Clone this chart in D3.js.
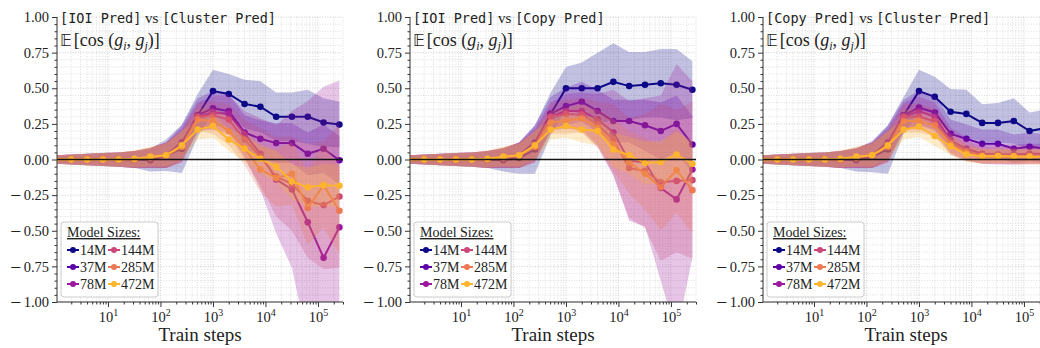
<!DOCTYPE html>
<html>
<head>
<meta charset="utf-8">
<script src="https://cdn.jsdelivr.net/npm/d3@7"></script>
<style>
  body { margin: 0; background: #fff; }
  text { font-family: "Liberation Serif", serif; fill: #222; }
</style>
</head>
<body>
<svg id="chart" width="1040" height="348"></svg>
<script>
// training checkpoints (x) and model sizes (series)
const steps = [1, 2, 4, 8, 16, 32, 64, 128, 256, 512, 1000, 2000, 4000, 8000, 16000, 32000, 64000, 128000, 256000];
const sizes = ["14M", "37M", "78M", "144M", "285M", "472M"];
const panelTitles = [["IOI Pred", "Cluster Pred"], ["IOI Pred", "Copy Pred"], ["Copy Pred", "Cluster Pred"]];
const yTicks = [-1, -0.75, -0.5, -0.25, 0, 0.25, 0.5, 0.75, 1];
const xTicks = [10, 100, 1000, 10000, 100000];

// [IOI Pred] vs [Cluster Pred]
const meanIoiCluster = [
  [0, 0, 0, 0, 0, 0, -0.005, 0.03, 0.075, 0.31, 0.48, 0.46, 0.39, 0.37, 0.30, 0.30, 0.30, 0.26, 0.245],
  [0, 0, 0, 0, 0, 0, 0.01, 0.03, 0.12, 0.31, 0.36, 0.34, 0.19, 0.145, 0.115, 0.115, 0.04, 0.075, -0.005],
  [0, 0, 0, 0, 0, 0, 0.01, 0.03, 0.10, 0.30, 0.33, 0.32, 0.18, 0.04, -0.14, -0.21, -0.44, -0.69, -0.475],
  [0, 0, 0, 0, 0, 0, 0.01, 0.03, 0.09, 0.30, 0.31, 0.28, 0.14, 0.02, -0.12, -0.17, -0.29, -0.32, -0.26],
  [0, 0, 0, 0, 0, 0, 0.015, 0.03, 0.09, 0.28, 0.27, 0.20, 0.08, -0.07, -0.13, -0.10, -0.34, -0.18, -0.36],
  [0, 0, 0, 0, 0, 0.005, 0.02, 0.03, 0.10, 0.21, 0.235, 0.14, 0.075, 0.005, -0.05, -0.155, -0.195, -0.18, -0.185]
];
const sdIoiCluster = [
  [0.03, 0.035, 0.04, 0.045, 0.05, 0.06, 0.08, 0.11, 0.17, 0.15, 0.15, 0.14, 0.17, 0.18, 0.17, 0.17, 0.19, 0.17, 0.16],
  [0.03, 0.035, 0.04, 0.045, 0.05, 0.06, 0.07, 0.09, 0.12, 0.12, 0.12, 0.12, 0.12, 0.13, 0.14, 0.14, 0.15, 0.17, 0.17],
  [0.03, 0.035, 0.04, 0.045, 0.05, 0.06, 0.07, 0.09, 0.12, 0.10, 0.12, 0.13, 0.16, 0.25, 0.38, 0.55, 0.85, 1.20, 1.03],
  [0.03, 0.035, 0.04, 0.045, 0.05, 0.06, 0.07, 0.09, 0.11, 0.09, 0.10, 0.11, 0.14, 0.20, 0.28, 0.33, 0.40, 0.45, 0.50],
  [0.03, 0.035, 0.04, 0.045, 0.05, 0.06, 0.07, 0.09, 0.11, 0.08, 0.09, 0.10, 0.12, 0.16, 0.20, 0.22, 0.26, 0.30, 0.30],
  [0.03, 0.035, 0.04, 0.045, 0.05, 0.06, 0.07, 0.08, 0.10, 0.07, 0.08, 0.08, 0.09, 0.10, 0.11, 0.12, 0.14, 0.15, 0.15]
];

// [IOI Pred] vs [Copy Pred]
const meanIoiCopy = [
  [0, 0, 0, 0, 0, 0, -0.005, 0.01, 0.07, 0.32, 0.50, 0.50, 0.50, 0.545, 0.515, 0.525, 0.535, 0.525, 0.49],
  [0, 0, 0, 0, 0, 0, 0.01, 0.03, 0.12, 0.32, 0.375, 0.405, 0.34, 0.27, 0.27, 0.24, 0.20, 0.25, 0.105],
  [0, 0, 0, 0, 0, 0, 0.01, 0.03, 0.10, 0.30, 0.34, 0.34, 0.28, 0.19, -0.01, -0.02, -0.20, -0.28, -0.07],
  [0, 0, 0, 0, 0, 0, 0.01, 0.03, 0.09, 0.30, 0.32, 0.315, 0.245, 0.14, -0.06, -0.08, -0.16, -0.15, -0.145],
  [0, 0, 0, 0, 0, 0, 0.015, 0.03, 0.09, 0.26, 0.27, 0.29, 0.22, 0.105, -0.02, -0.10, -0.195, -0.075, -0.215],
  [0, 0, 0, 0, 0, 0.005, 0.02, 0.03, 0.10, 0.21, 0.235, 0.21, 0.20, 0.07, 0.03, -0.025, -0.018, 0.035, -0.03]
];
const sdIoiCopy = [
  [0.03, 0.035, 0.04, 0.045, 0.05, 0.06, 0.08, 0.11, 0.17, 0.15, 0.15, 0.18, 0.25, 0.27, 0.24, 0.23, 0.24, 0.25, 0.20],
  [0.03, 0.035, 0.04, 0.045, 0.05, 0.06, 0.07, 0.09, 0.12, 0.12, 0.13, 0.14, 0.15, 0.15, 0.15, 0.18, 0.20, 0.20, 0.20],
  [0.03, 0.035, 0.04, 0.045, 0.05, 0.06, 0.07, 0.09, 0.12, 0.10, 0.12, 0.13, 0.18, 0.30, 0.42, 0.45, 0.65, 0.95, 0.62],
  [0.03, 0.035, 0.04, 0.045, 0.05, 0.06, 0.07, 0.09, 0.11, 0.09, 0.10, 0.12, 0.16, 0.25, 0.35, 0.40, 0.55, 0.50, 0.55],
  [0.03, 0.035, 0.04, 0.045, 0.05, 0.06, 0.07, 0.09, 0.11, 0.08, 0.09, 0.10, 0.13, 0.18, 0.22, 0.25, 0.30, 0.30, 0.30],
  [0.03, 0.035, 0.04, 0.045, 0.05, 0.06, 0.07, 0.08, 0.10, 0.07, 0.08, 0.09, 0.10, 0.12, 0.13, 0.15, 0.15, 0.16, 0.16]
];

// [Copy Pred] vs [Cluster Pred]
const meanCopyCluster = [
  [0, 0, 0, 0, 0, 0, -0.005, 0.02, 0.07, 0.31, 0.48, 0.44, 0.335, 0.32, 0.257, 0.257, 0.27, 0.20, 0.22],
  [0, 0, 0, 0, 0, 0, 0.01, 0.03, 0.12, 0.31, 0.365, 0.33, 0.18, 0.145, 0.11, 0.11, 0.075, 0.09, 0.075],
  [0, 0, 0, 0, 0, 0, 0.01, 0.03, 0.10, 0.30, 0.34, 0.30, 0.135, 0.075, 0.04, 0.035, 0.035, 0.04, 0.04],
  [0, 0, 0, 0, 0, 0, 0.01, 0.03, 0.09, 0.30, 0.30, 0.27, 0.115, 0.06, 0.03, 0.03, 0.025, 0.025, 0.025],
  [0, 0, 0, 0, 0, 0, 0.015, 0.03, 0.09, 0.27, 0.27, 0.24, 0.105, 0.047, 0.02, 0.02, 0.02, 0.02, 0.02],
  [0, 0, 0, 0, 0, 0.005, 0.02, 0.03, 0.10, 0.21, 0.23, 0.165, 0.093, 0.035, 0.023, 0.025, 0.022, 0.02, 0.02]
];
const sdCopyCluster = [
  [0.03, 0.035, 0.04, 0.045, 0.05, 0.06, 0.08, 0.11, 0.17, 0.13, 0.15, 0.14, 0.16, 0.17, 0.13, 0.14, 0.16, 0.13, 0.13],
  [0.03, 0.035, 0.04, 0.045, 0.05, 0.06, 0.07, 0.09, 0.12, 0.11, 0.12, 0.12, 0.10, 0.10, 0.10, 0.10, 0.10, 0.10, 0.10],
  [0.03, 0.035, 0.04, 0.045, 0.05, 0.06, 0.07, 0.09, 0.12, 0.10, 0.10, 0.10, 0.09, 0.08, 0.07, 0.07, 0.07, 0.07, 0.07],
  [0.03, 0.035, 0.04, 0.045, 0.05, 0.06, 0.07, 0.09, 0.11, 0.09, 0.09, 0.09, 0.08, 0.07, 0.06, 0.06, 0.06, 0.06, 0.06],
  [0.03, 0.035, 0.04, 0.045, 0.05, 0.06, 0.07, 0.09, 0.11, 0.08, 0.08, 0.08, 0.07, 0.06, 0.05, 0.05, 0.05, 0.05, 0.05],
  [0.03, 0.035, 0.04, 0.045, 0.05, 0.06, 0.07, 0.08, 0.10, 0.07, 0.07, 0.07, 0.06, 0.05, 0.05, 0.05, 0.05, 0.05, 0.05]
];

const panelMeans = [meanIoiCluster, meanIoiCopy, meanCopyCluster];
const panelSds = [sdIoiCluster, sdIoiCopy, sdCopyCluster];

var svg = d3.select("#chart");
var panelLeft = [57, 410, 763];
var marginTop = 17, width = 286, height = 285;

var x = d3.scaleLog().domain([1.07, 3.0e5]).range([0, width]);
var y = d3.scaleLinear().domain([-1, 1]).range([height, 0]);
var color = i => d3.interpolatePlasma(i / 6);

svg.append("defs").append("clipPath").attr("id", "clip")
  .append("rect").attr("width", width).attr("height", height);

// minor positions for grid / ticks
var xMinor = [];
for (let k = 0; k < 6; k++) for (let m = 2; m < 10; m++) {
  let v = m * Math.pow(10, k);
  if (v >= x.domain()[0] && v <= x.domain()[1]) xMinor.push(v);
}
var yMinor = d3.range(-20, 21).map(i => i * 0.05).filter(v => Math.abs(v * 4 - Math.round(v * 4)) > 1e-6);

panelMeans.forEach(function(means, p) {
  var sds = panelSds[p];
  var g = svg.append("g").attr("transform", "translate(" + panelLeft[p] + "," + marginTop + ")");

  // grid
  var grid = g.append("g").attr("class", "grid");
  grid.selectAll(".gx").data(xMinor.concat(xTicks)).enter().append("line")
    .attr("x1", d => x(d)).attr("x2", d => x(d)).attr("y1", 0).attr("y2", height)
    .attr("stroke", d => xTicks.includes(d) ? "#b8b8b8" : "#d0d0d0")
    .attr("stroke-width", 0.7).attr("stroke-dasharray", "1,1.6");
  grid.selectAll(".gy").data(yMinor.concat(yTicks)).enter().append("line")
    .attr("x1", 0).attr("x2", width).attr("y1", d => y(d)).attr("y2", d => y(d))
    .attr("stroke", d => yTicks.includes(d) ? "#b8b8b8" : "#d0d0d0")
    .attr("stroke-width", 0.7).attr("stroke-dasharray", "1,1.6");

  var plot = g.append("g").attr("clip-path", "url(#clip)");

  means.forEach(function(vals, i) {
    var pts = steps.map((s, j) => ({ s: s, m: vals[j], sd: sds[i][j] }));
    var area = d3.area()
      .x(d => x(d.s))
      .y0(d => y(d.m - d.sd))
      .y1(d => y(d.m + d.sd));
    plot.append("path").datum(pts)
      .attr("d", area)
      .attr("fill", color(i))
      .attr("fill-opacity", 0.25);
    var line = d3.line().x(d => x(d.s)).y(d => y(d.m));
    plot.append("path").datum(pts)
      .attr("d", line)
      .attr("fill", "none")
      .attr("stroke", color(i))
      .attr("stroke-width", 2);
    plot.selectAll(".dot" + i).data(pts).enter().append("circle")
      .attr("cx", d => x(d.s)).attr("cy", d => y(d.m))
      .attr("r", 3.3).attr("fill", color(i));
  });

  // zero line
  g.append("line").attr("x1", 0).attr("x2", width)
    .attr("y1", y(0)).attr("y2", y(0))
    .attr("stroke", "#111").attr("stroke-width", 1.3);

  // axes
  var ya = g.append("g").call(d3.axisLeft(y).tickValues(yTicks).tickSize(5));
  g.append("g").call(d3.axisLeft(y).tickValues(yMinor).tickSize(2.5).tickFormat(""))
    .select(".domain").remove();
  ya.selectAll("text").each(function(d) {
    var t = d3.select(this).text(null).attr("x", -8);
    if (d < 0) {
      t.append("tspan").attr("font-family", "DejaVu Serif").text("\u2212");
      t.append("tspan").attr("dx", 2).text(Math.abs(d).toFixed(2));
    } else {
      t.text(d.toFixed(2));
    }
  });
  var xa = g.append("g").attr("transform", "translate(0," + height + ")")
    .call(d3.axisBottom(x).tickValues(xTicks).tickSize(5));
  g.append("g").attr("transform", "translate(0," + height + ")")
    .call(d3.axisBottom(x).tickValues(xMinor).tickSize(2.5).tickFormat(""))
    .select(".domain").remove();
  xa.selectAll("text").each(function(d) {
    var t = d3.select(this).text(null).attr("y", 10);
    t.append("tspan").text("10");
    t.append("tspan").attr("dy", -6).attr("font-size", 10).text(Math.round(Math.log10(d)));
  });
  g.selectAll(".tick text").attr("font-size", 14.5).attr("font-family", "Liberation Serif").attr("fill", "#222");
  g.selectAll(".domain, .tick line").attr("stroke", "#333");
  ya.select(".domain").attr("d", "M0," + height + "V0");
  xa.select(".domain").attr("d", "M0,0H" + width);

  g.append("text").attr("x", width / 2).attr("y", height + 39)
    .attr("text-anchor", "middle").attr("font-size", 19).attr("fill", "#333").text("Train steps");

  // title
  var title = g.append("text").attr("x", 3).attr("y", 6).attr("font-size", 13.5);
  title.append("tspan").attr("font-family", "DejaVu Sans Mono").text("[" + panelTitles[p][0] + "]");
  title.append("tspan").attr("font-size", 15).text(" vs ");
  title.append("tspan").attr("font-family", "DejaVu Sans Mono").text("[" + panelTitles[p][1] + "]");

  var sub = g.append("text").attr("x", 3).attr("y", 29).attr("font-size", 18);
  sub.append("tspan").attr("font-family", "DejaVu Sans").attr("font-size", 16).text("\u{1D53C}");
  sub.append("tspan").attr("dx", 2).text("[cos (");
  sub.append("tspan").attr("font-style", "italic").text("g");
  sub.append("tspan").attr("font-style", "italic").attr("font-size", 12).attr("dy", 4).text("i");
  sub.append("tspan").attr("dy", -4).text(", ");
  sub.append("tspan").attr("font-style", "italic").text("g");
  sub.append("tspan").attr("font-style", "italic").attr("font-size", 12).attr("dy", 4).text("j");
  sub.append("tspan").attr("dy", -4).text(")]");

  // legend
  var leg = g.append("g").attr("transform", "translate(4,205)");
  leg.append("rect").attr("width", 97).attr("height", 75).attr("rx", 3)
    .attr("fill", "#fff").attr("fill-opacity", 0.85)
    .attr("stroke", "#ccc").attr("stroke-width", 1);
  leg.append("text").attr("x", 6).attr("y", 15).attr("font-size", 14)
    .attr("text-decoration", "underline").text("Model Sizes:");
  sizes.forEach(function(s, i) {
    var col = Math.floor(i / 3), row = i % 3;
    var lx = 6 + col * 41, ly = 28 + row * 17;
    leg.append("line").attr("x1", lx).attr("x2", lx + 12).attr("y1", ly).attr("y2", ly)
      .attr("stroke", color(i)).attr("stroke-width", 2);
    leg.append("circle").attr("cx", lx + 6).attr("cy", ly).attr("r", 3).attr("fill", color(i));
    leg.append("text").attr("x", lx + 13).attr("y", ly + 5).attr("font-size", 14).text(s);
  });
});
</script>
</body>
</html>
